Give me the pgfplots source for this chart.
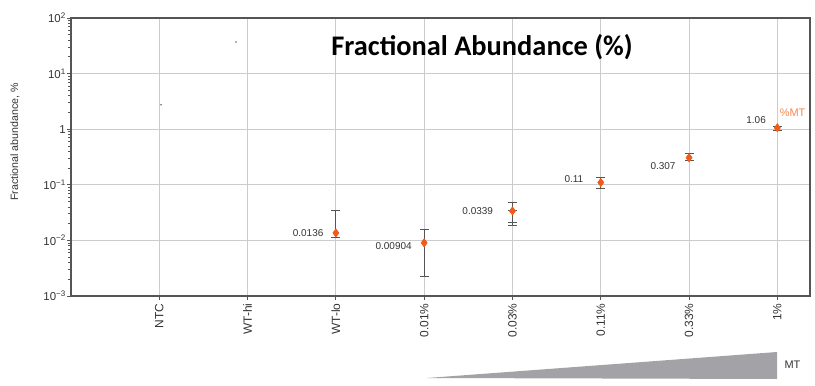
\documentclass[border=0pt]{standalone}
\usepackage{fontspec}
\setmainfont{Liberation Sans}
\newfontfamily\titlefont{Carlito}
\usepackage{pgfplots}
\usepackage{pgfplotstable}
\pgfplotsset{compat=1.18}
\definecolor{ptorange}{HTML}{F25A1A}
\definecolor{mtorange}{HTML}{F5874F}
\definecolor{axgray}{HTML}{555555}
\definecolor{gridgray}{HTML}{CCCCCC}
\definecolor{txtgray}{HTML}{333333}
\definecolor{wedge}{HTML}{A3A3A7}

\pgfplotstableread{
x y ep em
3 0.0136 0.0209 0.0021
4 0.00904 0.00666 0.00684
5 0.0339 0.0141 0.0156
6 0.11 0.027 0.024
7 0.307 0.053 0.032
8 1.06 0.07 0.11
}\data

\pgfplotstableread{
x y ep em
5 0.0339 0 0.0129
}\extra

\begin{document}
\begin{tikzpicture}
\useasboundingbox (0,0) rectangle (815bp,386bp);
\begin{axis}[
  at={(71bp,90bp)}, anchor=south west,
  width=739bp, height=278bp, scale only axis,
  xmin=0, xmax=8.37,
  ymode=log, ymin=1e-3, ymax=1e2,
  xtick={1,...,8},
  xticklabels={NTC,WT-hi,WT-lo,0.01\%,0.03\%,0.11\%,0.33\%,1\%},
  x tick label style={rotate=90, anchor=east, font=\fontsize{12}{12}\selectfont, text=txtgray},
  ytick={1e-3,1e-2,1e-1,1,1e1,1e2},
  yticklabels={10\textsuperscript{−3},10\textsuperscript{−2},10\textsuperscript{−1},1,10\textsuperscript{1},10\textsuperscript{2}},
  y tick label style={font=\fontsize{11.5}{11.5}\selectfont, text=txtgray, inner xsep=1bp},
  xtick pos=bottom, ytick pos=left,
  tick align=outside, major tick length=4bp,
  tick style={axgray, line width=0.8pt},
  axis line style={axgray, line width=1.2pt},
  grid=major, grid style={gridgray, line width=0.8pt},
  ylabel={Fractional abundance, \%},
  ylabel style={at={(axis description cs:-0.076,0.554)}, anchor=center, font=\fontsize{10.7}{10.7}\selectfont, text=txtgray},
  clip=false,
]
\addplot[only marks, mark=*, mark size=0.6pt, gray] coordinates {(1.02,2.76) (1.87,37)};
\addplot[only marks, draw=none, mark=none,
  error bars/.cd, y dir=both, y explicit,
  error bar style={axgray, line width=1pt},
  error mark options={rotate=90, mark size=4.5bp, axgray, line width=1pt}]
  table[x=x, y=y, y error plus=ep, y error minus=em] {\extra};
\addplot[only marks, mark=diamond*, mark size=4bp,
  mark options={fill=ptorange, draw=ptorange},
  error bars/.cd, y dir=both, y explicit,
  error bar style={axgray, line width=1pt},
  error mark options={rotate=90, mark size=4.5bp, axgray, line width=1pt}]
  table[x=x, y=y, y error plus=ep, y error minus=em] {\data};
\addplot[only marks, mark=diamond*, mark size=4bp,
  mark options={fill=ptorange, draw=ptorange}]
  table[x=x, y=y] {\data};
\begin{scope}[every node/.style={font=\fontsize{10}{10}\selectfont, text=txtgray, anchor=east}]
\node at (axis cs:3,0.0136) [xshift=-9bp] {0.0136};
\node at (axis cs:4,0.00904) [xshift=-9bp, yshift=-3bp] {0.00904};
\node at (axis cs:5,0.0339) [xshift=-16bp, yshift=0bp] {0.0339};
\node at (axis cs:6,0.11) [xshift=-14bp, yshift=3bp] {0.11};
\node at (axis cs:7,0.307) [xshift=-10bp, yshift=-8bp] {0.307};
\node at (axis cs:8,1.06) [xshift=-8bp, yshift=8bp] {1.06};
\end{scope}
\node[anchor=west, font=\fontsize{11}{11}\selectfont, text=mtorange] at (axis cs:8,1.06) [xshift=-1bp, yshift=15bp] {\%MT};
\end{axis}
\node[anchor=base, font=\titlefont\bfseries\fontsize{28.5}{30}\selectfont] at (482bp,330bp) {Fractional Abundance (\%)};
\fill[wedge] (427bp,8bp) -- (777bp,34bp) -- (777bp,7bp) -- cycle;
\node[anchor=west, font=\fontsize{11}{11}\selectfont, text=txtgray] at (781bp,21bp) {MT};
\end{tikzpicture}
\end{document}
